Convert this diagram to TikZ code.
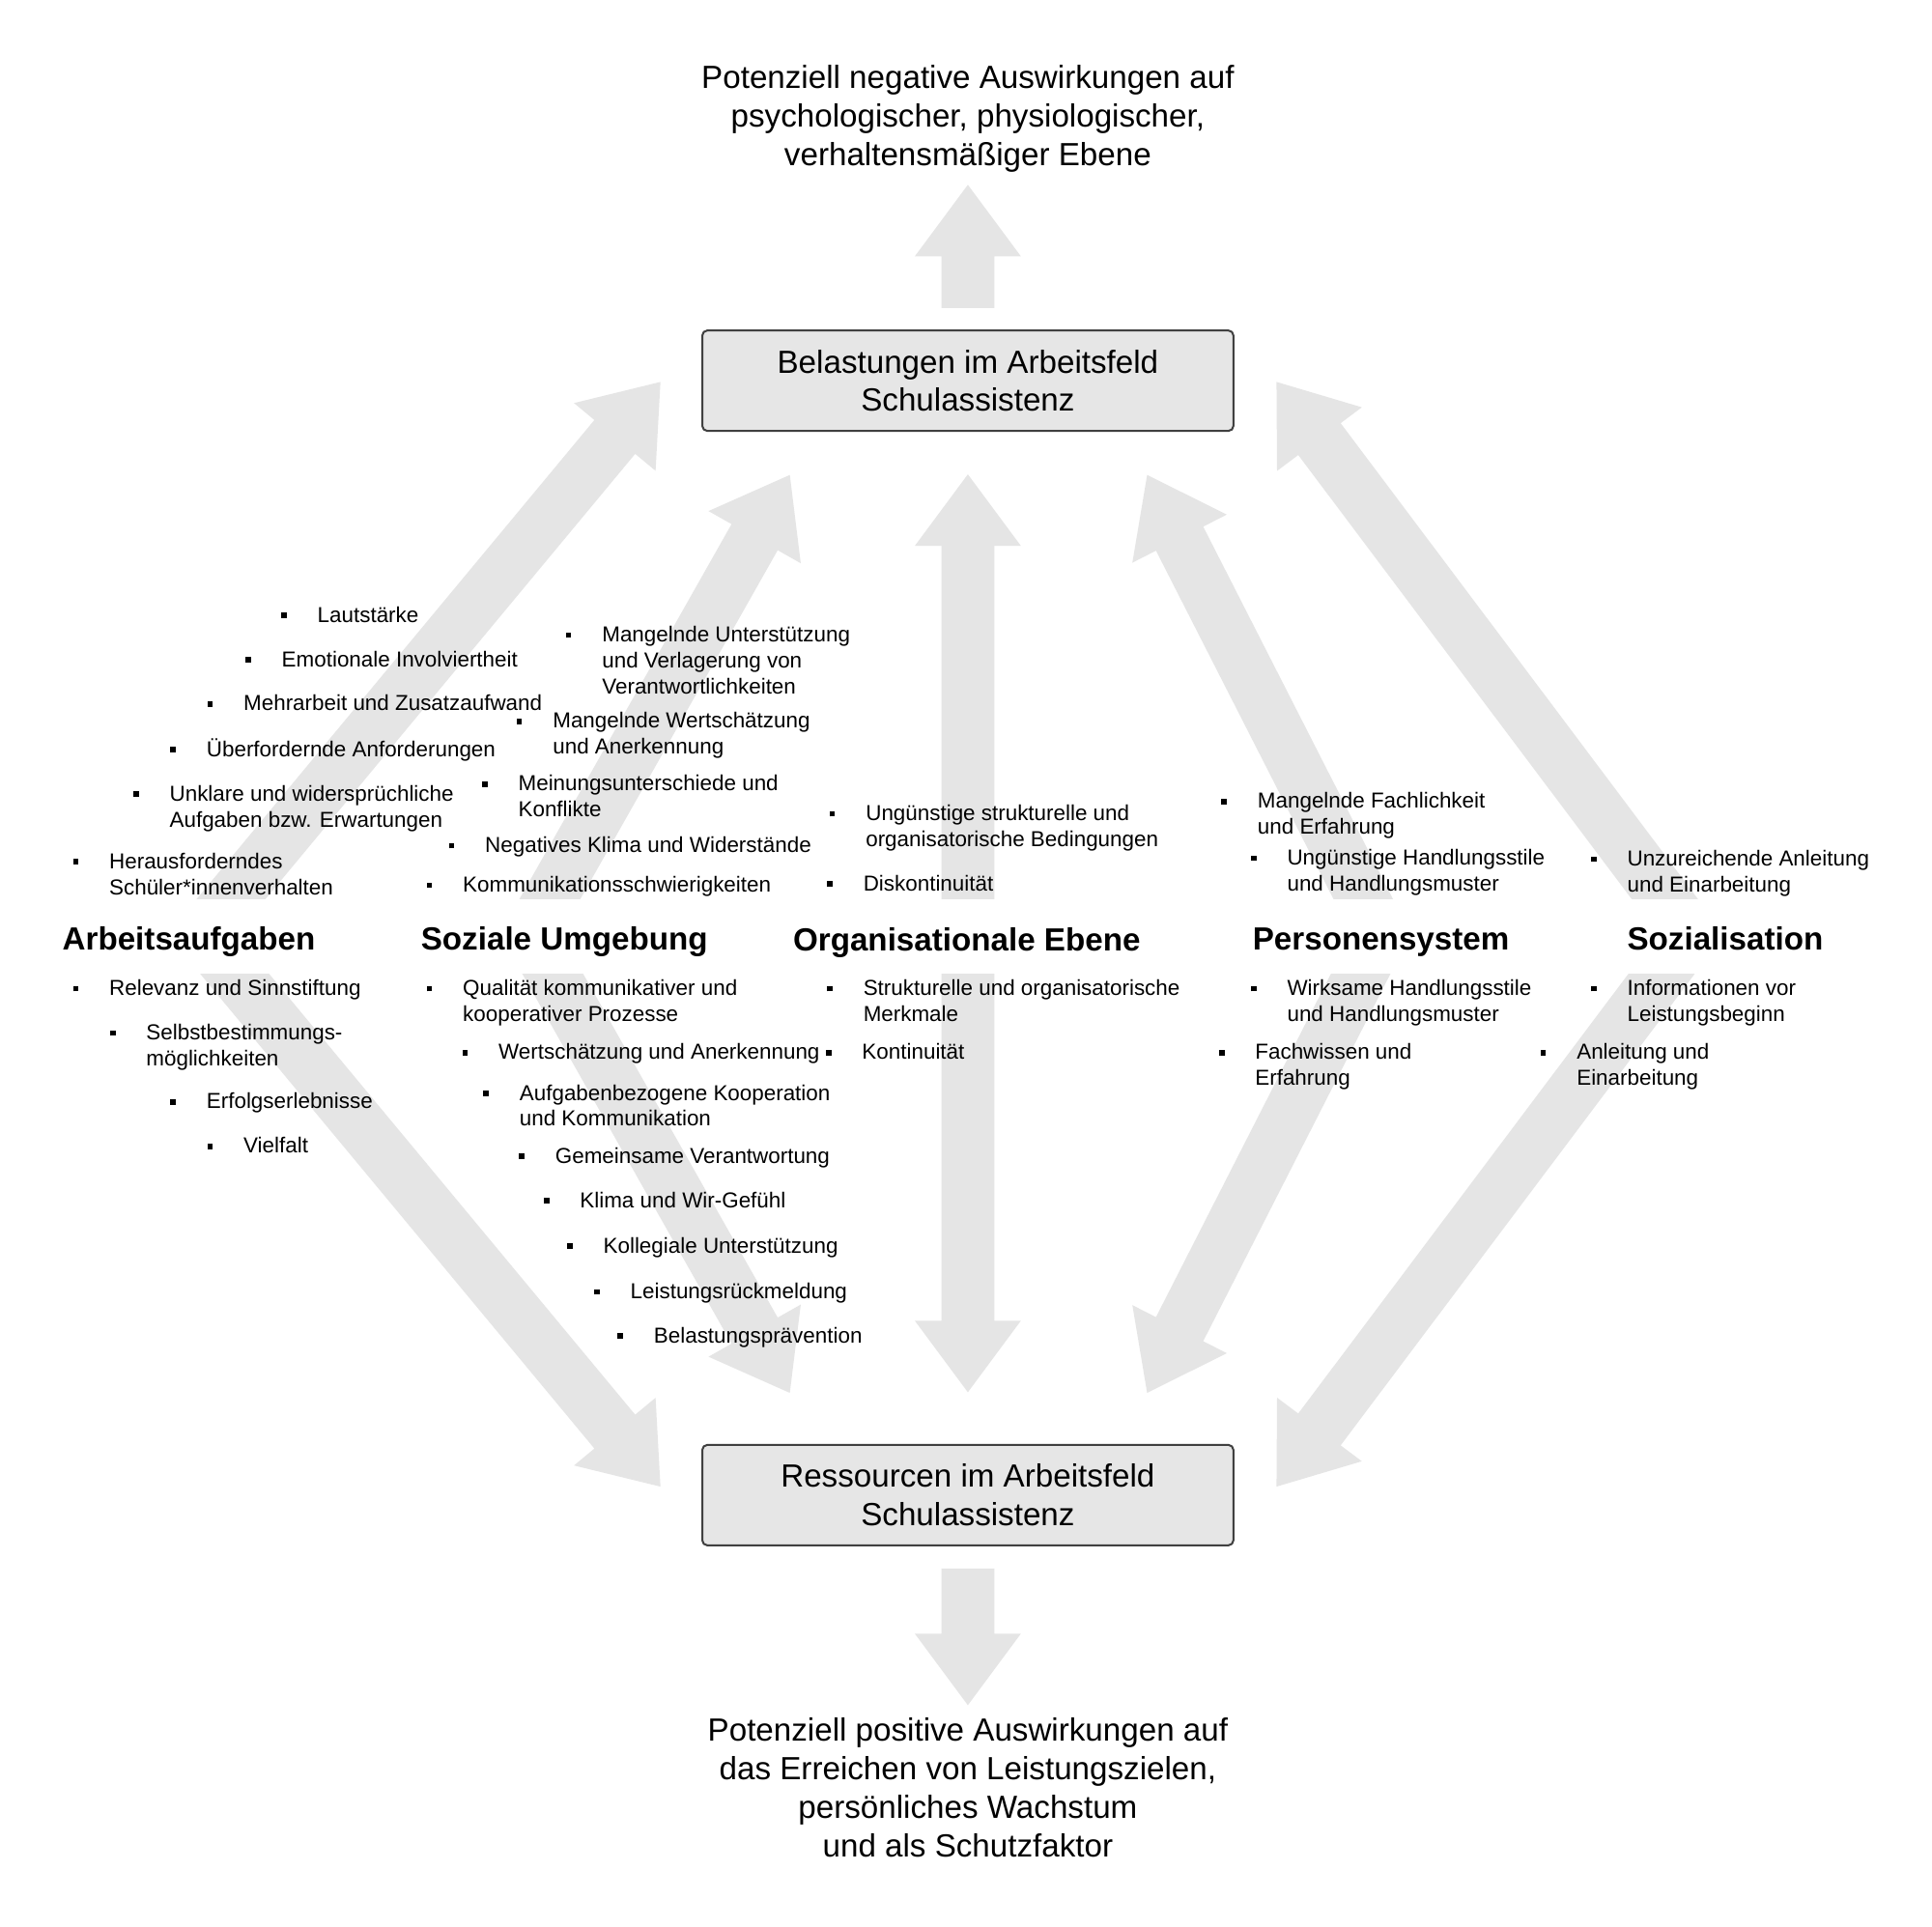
\documentclass[tikz,border=0pt]{standalone}
\usepackage{fontspec}
\setmainfont{Liberation Sans}
\definecolor{arrowgray}{RGB}{229,229,229}
\definecolor{boxgray}{RGB}{230,230,230}
\newcommand{\sq}{\rule[0.95pt]{1.25pt}{1.25pt}}
\newcommand{\itm}[1]{\llap{\sq\hspace{0.25cm}}\begin{tabular}[t]{@{}l@{}}#1\end{tabular}}
\newcommand{\ctr}[1]{\begin{tabular}[t]{@{}c@{}}#1\end{tabular}}
% fat block arrow: tip, direction, length from tip to tail
\newcommand{\fatarrow}[3]{%
	\fill[arrowgray, shift={(#1)}, rotate=#2]
	(0,0) -- (-0.58,0.43) -- (-0.58,0.215) -- (-#3,0.215)
	-- (-#3,-0.215) -- (-0.58,-0.215) -- (-0.58,-0.43) -- cycle;}

\begin{document}
\begin{tikzpicture}[line join=round,
	font=\fontsize{7.4}{8.9}\selectfont,
	listitem/.style={anchor=base west, inner sep=0pt, font=\fontsize{5}{6}\selectfont},
	cathead/.style={anchor=base west, inner sep=0pt, font=\fontsize{7.4}{8.9}\selectfont\bfseries},
	effect/.style={anchor=base, inner sep=0pt},
	fieldbox/.style={draw=black!75, line width=0.45pt, fill=boxgray, rounded corners=0.04cm,
		minimum width=4.31cm, minimum height=0.815cm, align=center, inner sep=0pt}]
	
	% background fixes the page
	\fill[white] (0,0) rectangle (15.68,-15.64);
	
	%========================
	% arrow tips
	%========================
	\coordinate (tn) at (7.855,-1.50);
	\coordinate (tp) at (7.855,-13.84);
	\coordinate (u1) at (5.36,-3.10);
	\coordinate (u2) at (6.41,-3.855);
	\coordinate (u3) at (7.855,-3.85);
	\coordinate (u4) at (9.31,-3.855);
	\coordinate (u5) at (10.36,-3.10);
	\coordinate (l1) at (5.36,-12.066);
	\coordinate (l2) at (6.41,-11.305);
	\coordinate (l3) at (7.855,-11.30);
	\coordinate (l4) at (9.31,-11.305);
	\coordinate (l5) at (10.36,-12.066);
	
	% effects
	\fatarrow{tn}{90}{1.00}
	\fatarrow{tp}{-90}{1.11}
	
	% upper arrows, cut above the headings
	\begin{scope}
		\clip (0,0) rectangle (15.68,-7.295);
		\fatarrow{u1}{50.3}{7}
		\fatarrow{u2}{60.5}{7}
		\fatarrow{u3}{90}{7}
		\fatarrow{u4}{117}{7}
		\fatarrow{u5}{126.9}{7}
	\end{scope}
	
	% lower arrows, cut below the headings
	\begin{scope}
		\clip (0,-7.905) rectangle (15.68,-15.64);
		\fatarrow{l1}{-50.3}{7}
		\fatarrow{l2}{-60.5}{7}
		\fatarrow{l3}{-90}{7}
		\fatarrow{l4}{-117}{7}
		\fatarrow{l5}{-126.9}{7}
	\end{scope}
	
	%========================
	% boxes and effects
	%========================
	\node[effect] (neg) at (7.855,-0.715) {\ctr{Potenziell negative Auswirkungen auf\\psychologischer, physiologischer,\\verhaltensmäßiger Ebene}};
	\node[fieldbox] (bel) at (7.855,-3.09) {Belastungen im Arbeitsfeld\\Schulassistenz};
	\node[fieldbox] (res) at (7.855,-12.135) {Ressourcen im Arbeitsfeld\\Schulassistenz};
	\node[effect] (pos) at (7.855,-14.13) {\ctr{Potenziell positive Auswirkungen auf\\das Erreichen von Leistungszielen,\\persönliches Wachstum\\und als Schutzfaktor}};
	
	%========================
	% Arbeitsaufgaben
	%========================
	\node[listitem] (lz) at (2.57,-5.05) {\itm{Lautstärke}};
	\node[listitem] (ei) at (2.28,-5.41) {\itm{Emotionale Involviertheit}};
	\node[listitem] (mz) at (1.97,-5.77) {\itm{Mehrarbeit und Zusatzaufwand}};
	\node[listitem] (ua) at (1.67,-6.14) {\itm{Überfordernde Anforderungen}};
	\node[listitem] (uw) at (1.37,-6.50) {\itm{Unklare und widersprüchliche\\Aufgaben bzw. Erwartungen}};
	\node[listitem] (hs) at (0.88,-7.05) {\itm{Herausforderndes\\Schüler*innenverhalten}};
	\node[cathead] (arb) at (0.50,-7.71) {Arbeitsaufgaben};
	\node[listitem] (rs) at (0.88,-8.08) {\itm{Relevanz und Sinnstiftung}};
	\node[listitem] (sb) at (1.18,-8.44) {\itm{Selbstbestimmungs-\\möglichkeiten}};
	\node[listitem] (ee) at (1.67,-9.00) {\itm{Erfolgserlebnisse}};
	\node[listitem] (vf) at (1.97,-9.36) {\itm{Vielfalt}};
	
	%========================
	% Soziale Umgebung
	%========================
	\node[listitem] (mu) at (4.88,-5.21) {\itm{Mangelnde Unterstützung\\und Verlagerung von\\Verantwortlichkeiten}};
	\node[listitem] (mw) at (4.48,-5.91) {\itm{Mangelnde Wertschätzung\\und Anerkennung}};
	\node[listitem] (mk) at (4.20,-6.42) {\itm{Meinungsunterschiede und\\Konflikte}};
	\node[listitem] (nk) at (3.93,-6.92) {\itm{Negatives Klima und Widerstände}};
	\node[listitem] (ks) at (3.75,-7.24) {\itm{Kommunikationsschwierigkeiten}};
	\node[cathead] (soz) at (3.41,-7.71) {Soziale Umgebung};
	\node[listitem] (qk) at (3.75,-8.08) {\itm{Qualität kommunikativer und\\kooperativer Prozesse}};
	\node[listitem] (wa) at (4.04,-8.60) {\itm{Wertschätzung und Anerkennung}};
	\node[listitem] (ak) at (4.21,-8.93) {\itm{Aufgabenbezogene Kooperation\\und Kommunikation}};
	\node[listitem] (gv) at (4.50,-9.44) {\itm{Gemeinsame Verantwortung}};
	\node[listitem] (kw) at (4.70,-9.80) {\itm{Klima und Wir-Gefühl}};
	\node[listitem] (ku) at (4.89,-10.17) {\itm{Kollegiale Unterstützung}};
	\node[listitem] (lr) at (5.11,-10.54) {\itm{Leistungsrückmeldung}};
	\node[listitem] (bp) at (5.30,-10.90) {\itm{Belastungsprävention}};
	
	%========================
	% Organisationale Ebene
	%========================
	\node[listitem] (ub) at (7.02,-6.66) {\itm{Ungünstige strukturelle und\\organisatorische Bedingungen}};
	\node[listitem] (dk) at (7.00,-7.23) {\itm{Diskontinuität}};
	\node[cathead] (org) at (6.43,-7.72) {Organisationale Ebene};
	\node[listitem] (sm) at (7.00,-8.08) {\itm{Strukturelle und organisatorische\\Merkmale}};
	\node[listitem] (kt) at (6.99,-8.60) {\itm{Kontinuität}};
	
	%========================
	% Personensystem
	%========================
	\node[listitem] (mf) at (10.20,-6.56) {\itm{Mangelnde Fachlichkeit\\und Erfahrung}};
	\node[listitem] (uh) at (10.44,-7.02) {\itm{Ungünstige Handlungsstile\\und Handlungsmuster}};
	\node[cathead] (per) at (10.16,-7.71) {Personensystem};
	\node[listitem] (wh) at (10.44,-8.08) {\itm{Wirksame Handlungsstile\\und Handlungsmuster}};
	\node[listitem] (fe) at (10.18,-8.60) {\itm{Fachwissen und\\Erfahrung}};
	
	%========================
	% Sozialisation
	%========================
	\node[listitem] (ue) at (13.20,-7.03) {\itm{Unzureichende Anleitung\\und Einarbeitung}};
	\node[cathead] (sol) at (13.20,-7.71) {Sozialisation};
	\node[listitem] (il) at (13.20,-8.08) {\itm{Informationen vor\\Leistungsbeginn}};
	\node[listitem] (ae) at (12.79,-8.60) {\itm{Anleitung und\\Einarbeitung}};
	
\end{tikzpicture}
\end{document}
